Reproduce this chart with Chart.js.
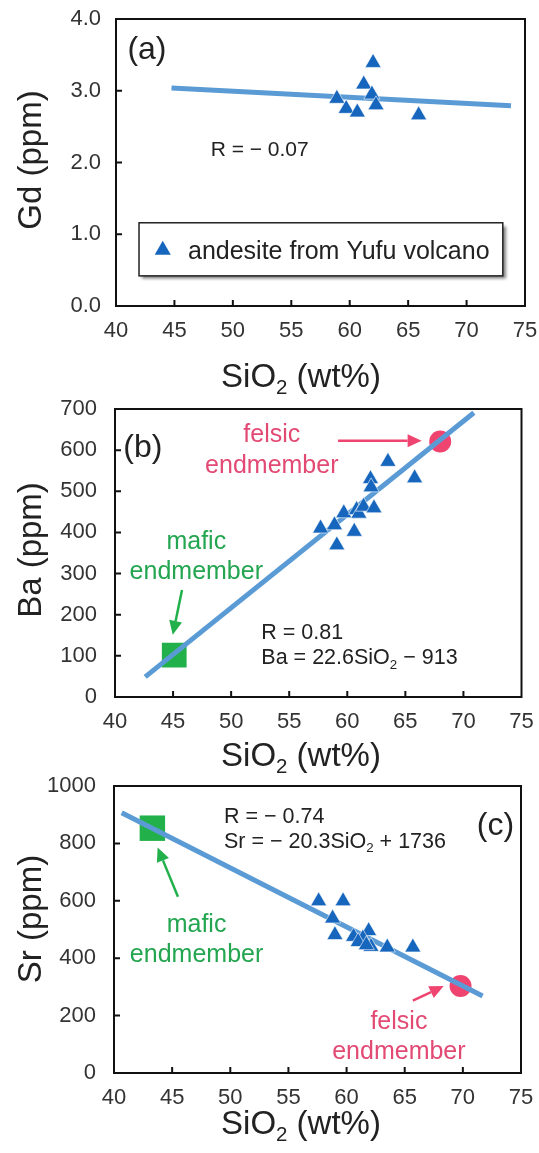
<!DOCTYPE html>
<html>
<head>
<meta charset="utf-8">
<script src="https://cdn.jsdelivr.net/npm/chart.js@4.4.1/dist/chart.umd.min.js"></script>
<style>
  body { margin: 0; background: #fff; width: 539px; height: 1153px; position: relative; overflow: hidden; }
  canvas { position: absolute; left: 0; }
</style>
</head>
<body>
<canvas id="chart-gd" width="539" height="400" style="top:0px"></canvas>
<canvas id="chart-ba" width="539" height="395" style="top:380px"></canvas>
<canvas id="chart-sr" width="539" height="388" style="top:765px"></canvas>
<script>
// --- données ---
const xTicks = [40, 45, 50, 55, 60, 65, 70, 75];
const gdTicks = [0, 1, 2, 3, 4];
const baTicks = [0, 100, 200, 300, 400, 500, 600, 700];
const srTicks = [0, 200, 400, 600, 800, 1000];

// (a) Gd
const gdSiO2 = [58.9, 59.7, 60.65, 61.2, 62.0, 61.9, 62.25, 65.9];
const gdPpm = [2.89, 2.75, 2.70, 3.09, 3.39, 2.95, 2.80, 2.66];
const gdFitX = [44.75, 73.8];
const gdFitY = [3.04, 2.79];

// (b) Ba
const baSiO2 = [57.7, 58.9, 59.1, 59.7, 60.6, 60.8, 61.0, 61.4, 62.0, 62.05, 62.3, 63.5, 65.8];
const baPpm = [410, 418, 369, 447, 402, 455, 446, 463, 530, 510, 459, 572, 532];
const baMafic = [45.1, 102];
const baFelsic = [68.0, 621];
const baFitX = [42.6, 70.9];
const baFitY = [49, 691];

// (c) Sr
const srSiO2 = [57.6, 59.7, 58.8, 59.0, 60.6, 61.9, 61.4, 62.1, 63.5, 65.7, 61.0, 61.7];
const srPpm = [599, 599, 539, 481, 475, 495, 469, 440, 438, 438, 457, 446];
const srMafic = [43.3, 853];
const srFelsic = [69.8, 303];
const srFitX = [40.66, 71.7];
const srFitY = [907, 268];

// --- styles ---
const FONT = '"Liberation Sans", Arial, sans-serif';
const BLUE = '#1766bd';
const FIT = '#5b9bd5';
const GREEN = '#22b04b';
const PINK = '#ef4470';
const PINK_TXT = '#e24a74';
const GREEN_TXT = '#24a550';
const TICK_SIZE = 22;

const pts = (xs, ys) => xs.map((x, i) => ({ x, y: ys[i] }));

function triangles(xs, ys) {
    return { data: pts(xs, ys), pointStyle: 'triangle', pointRadius: 9.3, backgroundColor: BLUE,
        borderColor: '#ffffff', borderWidth: 0.6, order: 0 };
}
function fitLine(xs, ys) {
    return { data: pts(xs, ys), showLine: true, borderColor: FIT, borderWidth: 5, pointRadius: 0,
        backgroundColor: FIT, order: 1 };
}
function endmember(p, style, color, r) {
    return { data: [{ x: p[0], y: p[1] }], pointStyle: style, pointRadius: r, backgroundColor: color,
        borderWidth: 0, order: 2 };
}

// texte avec indices : "SiO_2" -> 2 en indice
function drawRich(ctx, str, x, yc, size, align, color) {
    const segs = [];
    for (let i = 0; i < str.length; i++) {
        if (str[i] === '_') { segs.push({ t: str[i + 1], sub: true }); i++; }
        else if (segs.length && !segs[segs.length - 1].sub) segs[segs.length - 1].t += str[i];
        else segs.push({ t: str[i], sub: false });
    }
    const subSize = size * 0.62;
    let w = 0;
    segs.forEach(s => { ctx.font = (s.sub ? subSize : size) + 'px ' + FONT; s.w = ctx.measureText(s.t).width; w += s.w; });
    let cx = align === 'center' ? x - w / 2 : x;
    const base = yc + size * 0.36;
    ctx.fillStyle = color;
    ctx.textAlign = 'left';
    ctx.textBaseline = 'alphabetic';
    segs.forEach(s => {
        ctx.font = (s.sub ? subSize : size) + 'px ' + FONT;
        ctx.fillText(s.t, cx, s.sub ? base + size * 0.22 : base);
        cx += s.w;
    });
}

function arrow(ctx, x1, y1, x2, y2, color) {
    const a = Math.atan2(y2 - y1, x2 - x1);
    const hl = 14, hw = 6.5;
    ctx.strokeStyle = color;
    ctx.fillStyle = color;
    ctx.lineWidth = 2.5;
    ctx.beginPath();
    ctx.moveTo(x1, y1);
    ctx.lineTo(x2 - Math.cos(a) * hl, y2 - Math.sin(a) * hl);
    ctx.stroke();
    ctx.beginPath();
    ctx.moveTo(x2, y2);
    ctx.lineTo(x2 - Math.cos(a) * hl - Math.sin(a) * hw, y2 - Math.sin(a) * hl + Math.cos(a) * hw);
    ctx.lineTo(x2 - Math.cos(a) * hl + Math.sin(a) * hw, y2 - Math.sin(a) * hl - Math.cos(a) * hw);
    ctx.closePath();
    ctx.fill();
}

// cadre, graduations internes, titres et annotations
const decorPlugin = {
    id: 'decor',
    afterDraw(chart) {
        const cfg = chart.options.plugins.decor;
        const ctx = chart.ctx;
        const { left, right, top, bottom } = chart.chartArea;
        const xs = chart.scales.x, ys = chart.scales.y;
        const px = v => xs.getPixelForValue(v), py = v => ys.getPixelForValue(v);
        ctx.save();

        // légende (a)
        if (cfg.legend) {
            const L = cfg.legend;
            const x0 = px(L.box[0]), y0 = py(L.box[1]), x1 = px(L.box[2]), y1 = py(L.box[3]);
            ctx.save();
            ctx.shadowColor = 'rgba(0,0,0,0.5)';
            ctx.shadowOffsetX = 3; ctx.shadowOffsetY = 3; ctx.shadowBlur = 3;
            ctx.fillStyle = '#fff';
            ctx.fillRect(x0, y0, x1 - x0, y1 - y0);
            ctx.restore();
            ctx.strokeStyle = '#222'; ctx.lineWidth = 1.5;
            ctx.strokeRect(x0, y0, x1 - x0, y1 - y0);
            const mx = px(L.marker[0]), my = py(L.marker[1]);
            ctx.fillStyle = BLUE;
            ctx.beginPath();
            ctx.moveTo(mx, my - 9.3);
            ctx.lineTo(mx + 8.05, my + 4.65);
            ctx.lineTo(mx - 8.05, my + 4.65);
            ctx.closePath();
            ctx.fill();
            drawRich(ctx, L.text, px(L.textAt[0]), py(L.textAt[1]), 25, 'left', '#222');
        }

        // cadre
        ctx.strokeStyle = '#111';
        ctx.lineWidth = 2;
        ctx.strokeRect(left, top, right - left, bottom - top);
        ctx.beginPath();
        xTicks.slice(1, -1).forEach(v => { ctx.moveTo(px(v), bottom); ctx.lineTo(px(v), bottom - 6); });
        cfg.yTicks.slice(1, -1).forEach(v => { ctx.moveTo(left, py(v)); ctx.lineTo(left + 6, py(v)); });
        ctx.stroke();

        // annotations
        (cfg.notes || []).forEach(n => {
            drawRich(ctx, n.t, px(n.x), py(n.y), n.size || 21, n.align || 'left', n.color || '#222');
        });
        (cfg.arrows || []).forEach(a => arrow(ctx, px(a[0]), py(a[1]), px(a[2]), py(a[3]), a[4]));

        // titres d'axes
        drawRich(ctx, 'SiO_2 (wt%)', 301, cfg.xTitleY, 33, 'center', '#222');
        ctx.save();
        ctx.translate(29, cfg.yTitleY);
        ctx.rotate(-Math.PI / 2);
        drawRich(ctx, cfg.yTitle, 0, 0, 33, 'center', '#222');
        ctx.restore();
        ctx.restore();
    }
};

function makePanel(id, p) {
    const chart = new Chart(document.getElementById(id), {
        type: 'scatter',
        data: { datasets: p.datasets },
        plugins: [decorPlugin],
        options: {
            responsive: false,
            animation: false,
            devicePixelRatio: 1,
            layout: { padding: { top: p.padTop, right: 539 - p.right, left: 0, bottom: 0 } },
            scales: {
                x: {
                    type: 'linear', min: xTicks[0], max: xTicks[xTicks.length - 1],
                    afterBuildTicks: s => { s.ticks = xTicks.map(v => ({ value: v })); },
                    ticks: { font: { family: FONT, size: TICK_SIZE }, color: '#333', padding: 12, maxRotation: 0, autoSkip: false },
                    grid: { display: false, drawTicks: false },
                    border: { display: false },
                    // les étiquettes débordent librement : pas de marge ajoutée à la zone du graphe
                    afterFit: s => { s.height = p.xH; s.paddingLeft = 0; s.paddingRight = 0; s.paddingTop = 0; s.paddingBottom = 0; }
                },
                y: {
                    type: 'linear', min: p.yTicks[0], max: p.yTicks[p.yTicks.length - 1],
                    afterBuildTicks: s => { s.ticks = p.yTicks.map(v => ({ value: v })); },
                    ticks: { font: { family: FONT, size: TICK_SIZE }, color: '#333', padding: p.yPad, autoSkip: false,
                        callback: v => p.fmt ? p.fmt(v) : v },
                    grid: { display: false, drawTicks: false },
                    border: { display: false },
                    afterFit: s => { s.width = p.left; s.paddingLeft = 0; s.paddingRight = 0; s.paddingTop = 0; s.paddingBottom = 0; }
                }
            },
            plugins: {
                legend: { display: false },
                tooltip: { enabled: false },
                decor: {
                    yTicks: p.yTicks, yTitle: p.yTitle, xTitleY: p.xTitleY, yTitleY: p.yTitleY,
                    notes: p.notes, arrows: p.arrows, legend: p.legend
                }
            }
        }
    });
    return chart;
}

makePanel('chart-gd', {
    padTop: 19, right: 525, left: 116, xH: 94, yPad: 15,
    yTicks: gdTicks, fmt: v => v.toFixed(1),
    yTitle: 'Gd (ppm)', xTitleY: 375, yTitleY: 160,
    datasets: [triangles(gdSiO2, gdPpm), fitLine(gdFitX, gdFitY)],
    notes: [
        { t: '(a)', x: 42.65, y: 3.6, size: 32, align: 'center' },
        { t: 'R = \u2212 0.07', x: 48.1, y: 2.2 }
    ],
    legend: { box: [41.97, 1.16, 73.1, 0.42], marker: [44.0, 0.78], textAt: [46.16, 0.78], text: 'andesite from Yufu volcano' }
});

makePanel('chart-ba', {
    padTop: 29, right: 525, left: 115, xH: 78, yPad: 18,
    yTicks: baTicks,
    yTitle: 'Ba (ppm)', xTitleY: 374, yTitleY: 170,
    datasets: [triangles(baSiO2, baPpm), fitLine(baFitX, baFitY),
        endmember(baMafic, 'rect', GREEN, 17.5), endmember(baFelsic, 'circle', PINK, 11)],
    notes: [
        { t: '(b)', x: 42.4, y: 612, size: 32, align: 'center' },
        { t: 'felsic', x: 53.5, y: 642, size: 25, align: 'center', color: PINK_TXT },
        { t: 'endmember', x: 53.5, y: 566, size: 25, align: 'center', color: PINK_TXT },
        { t: 'mafic', x: 47.0, y: 382, size: 25, align: 'center', color: GREEN_TXT },
        { t: 'endmember', x: 47.0, y: 309, size: 25, align: 'center', color: GREEN_TXT },
        { t: 'R = 0.81', x: 52.6, y: 159, size: 21.5 },
        { t: 'Ba = 22.6SiO_2 \u2212 913', x: 52.6, y: 98, size: 21.5 }
    ],
    arrows: [[59.2, 623, 66.4, 623, PINK], [45.77, 260, 44.97, 151, GREEN]]
});

makePanel('chart-sr', {
    padTop: 21, right: 524, left: 114, xH: 80, yPad: 18,
    yTicks: srTicks,
    yTitle: 'Sr (ppm)', xTitleY: 357, yTitleY: 154,
    datasets: [triangles(srSiO2, srPpm), fitLine(srFitX, srFitY),
        endmember(srMafic, 'rect', GREEN, 18), endmember(srFelsic, 'circle', PINK, 11)],
    notes: [
        { t: '(c)', x: 72.8, y: 870, size: 32, align: 'center' },
        { t: 'R = \u2212 0.74', x: 49.46, y: 899, size: 21.5 },
        { t: 'Sr = \u2212 20.3SiO_2 + 1736', x: 49.46, y: 812, size: 21.5 },
        { t: 'mafic', x: 47.1, y: 522, size: 25, align: 'center', color: GREEN_TXT },
        { t: 'endmember', x: 47.1, y: 417, size: 25, align: 'center', color: GREEN_TXT },
        { t: 'felsic', x: 64.5, y: 185, size: 25, align: 'center', color: PINK_TXT },
        { t: 'endmember', x: 64.5, y: 80, size: 25, align: 'center', color: PINK_TXT }
    ],
    arrows: [[45.5, 614, 43.75, 786, GREEN], [65.7, 252, 68.35, 303, PINK]]
});
</script>
</body>
</html>
